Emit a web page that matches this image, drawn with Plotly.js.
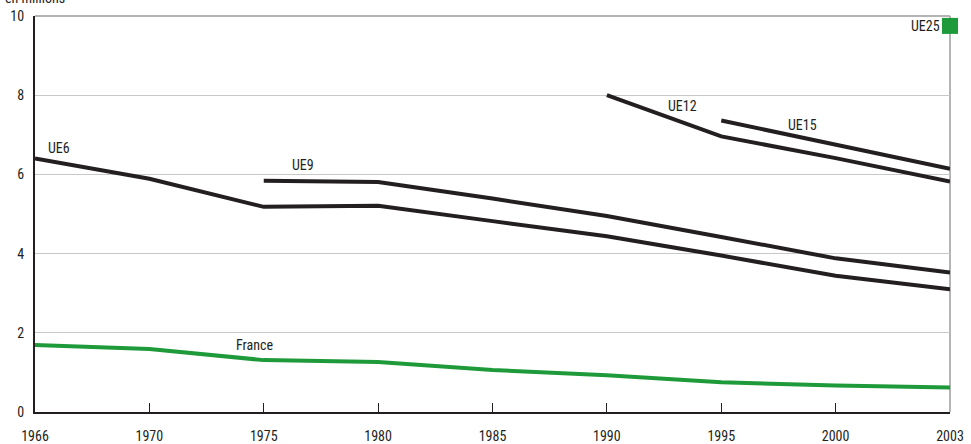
<!DOCTYPE html>
<html><head><meta charset="utf-8">
<script src="https://cdn.plot.ly/plotly-3.0.1.min.js"></script>
<style>body{margin:0;background:#fff}#c{width:971px;height:444px}</style>
</head><body><div id="c"></div>
<script>
var years = ['1966','1970','1975','1980','1985','1990','1995','2000','2003'];
var ue6 = [6.40, 5.89, 5.18, 5.21, 4.82, 4.44, 3.95, 3.44, 3.10];
var ue9Years = ['1975','1980','1985','1990','1995','2000','2003'];
var ue9 = [5.84, 5.81, 5.39, 4.95, 4.42, 3.88, 3.52];
var ue12Years = ['1990','1995','2000','2003'];
var ue12 = [8.00, 6.96, 6.41, 5.82];
var ue15Years = ['1995','2000','2003'];
var ue15 = [7.36, 6.76, 6.14];
var france = [1.69, 1.59, 1.31, 1.26, 1.06, 0.93, 0.75, 0.67, 0.62];
var ue25Years = ['2003'];
var ue25 = [9.75];

var black = '#231f20', green = '#1f9a3a';
var fnt = {family: '"Liberation Sans Narrow", "Arial Narrow", "Roboto Condensed", "Liberation Sans", sans-serif', size: 14, color: '#231f20'};
function ln(x, y, c) {
  return {x: x, y: y, type: 'scatter', mode: 'lines', line: {color: c, width: 4}, cliponaxis: false, hoverinfo: 'skip'};
}
var traces = [
  ln(years, france, green),
  ln(years, ue6, black),
  ln(ue9Years, ue9, black),
  ln(ue12Years, ue12, black),
  ln(ue15Years, ue15, black),
  {x: ue25Years, y: ue25, type: 'scatter', mode: 'markers', marker: {symbol: 'square', size: 16, color: green, line: {width: 0}}, cliponaxis: false}
];
function lab(t, x, y, extra) {
  var a = {text: t, x: x, y: y, xref: 'x', yref: 'y', showarrow: false, font: fnt};
  for (var k in extra) a[k] = extra[k];
  return a;
}
var layout = {
  width: 971, height: 444,
  margin: {l: 35, r: 21, t: 16, b: 32},
  paper_bgcolor: '#fff', plot_bgcolor: '#fff',
  showlegend: false,
  font: fnt,
  xaxis: {
    type: 'category', range: [0, 8], showgrid: false, zeroline: false,
    showline: true, linecolor: black, linewidth: 2,
    ticks: 'inside', ticklen: 9, tickcolor: black, tickwidth: 1,
    tickfont: fnt, ticklabelstandoff: 10, fixedrange: true
  },
  yaxis: {
    range: [0, 10], dtick: 2, showgrid: true, gridcolor: '#c8c8c8', gridwidth: 1,
    zeroline: false, showline: true, linecolor: black, linewidth: 2,
    ticks: '', tickfont: fnt, ticklabelstandoff: 6, fixedrange: true
  },
  shapes: [
    {type: 'line', layer: 'below', xref: 'paper', yref: 'paper', x0: 1, x1: 1, y0: 0, y1: 1, line: {color: '#b4b4b4', width: 2}},
    {type: 'line', layer: 'below', xref: 'paper', yref: 'paper', x0: 0, x1: 1, y0: 1, y1: 1, line: {color: '#b4b4b4', width: 2}}
  ],
  annotations: [
    lab('UE6', 0.1, 6.67, {xanchor: 'left'}),
    lab('UE9', 2.34, 6.24),
    lab('UE12', 5.66, 7.73),
    lab('UE15', 6.71, 7.25),
    lab('France', 1.92, 1.69),
    lab('UE25', 8, 9.75, {xanchor: 'right', xshift: -8}),
    {text: 'en millions', xref: 'paper', yref: 'paper', x: -0.035, y: 1.045, xanchor: 'left', yanchor: 'middle', showarrow: false, font: fnt}
  ]
};
Plotly.newPlot('c', traces, layout, {staticPlot: true});
</script></body></html>
